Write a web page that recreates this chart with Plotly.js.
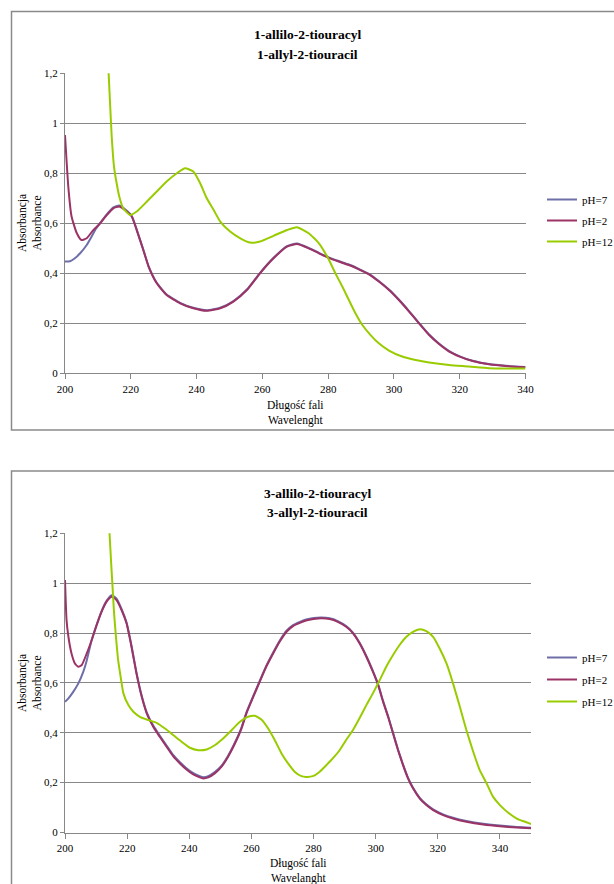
<!DOCTYPE html>
<html>
<head>
<meta charset="utf-8">
<script src="https://cdn.plot.ly/plotly-3.0.1.min.js"></script>
<style>html,body{margin:0;padding:0;background:#fff;}#chart{width:614px;height:884px;}</style>
</head>
<body>
<div id="chart"></div>
<script>
// ---------- Chart 1: 1-allyl-2-thiouracil ----------
const title1a = "1-allilo-2-tiouracyl";
const title1b = "1-allyl-2-tiouracil";
const series = ["pH=7", "pH=2", "pH=12"];

const top_x_ph7 = [200,201.5,203,204.6,206.6,208.1,209.5,210.7,212.7,214.7,216.5,218.8,220.3,221.8,223.8,225.4,227.9,230.9,235,239,243.1,247.2,251.2,255.3,259.3,263.4,267.5,270.5,274.1,277.2,280,283.2,286.3,289.3,292.4,295.4,298.5,301.5,304.6,307.6,310.7,313.7,316.8,320,323.9,328.9,334,340];
const top_y_ph7 = [0.447,0.448,0.46,0.48,0.513,0.547,0.58,0.602,0.636,0.664,0.671,0.65,0.629,0.575,0.495,0.429,0.362,0.315,0.282,0.262,0.252,0.262,0.289,0.335,0.402,0.462,0.509,0.519,0.502,0.482,0.465,0.449,0.435,0.418,0.398,0.369,0.335,0.295,0.249,0.202,0.155,0.119,0.089,0.068,0.05,0.037,0.03,0.025];

const top_x_ph2 = [200,201,202,203.6,205,206.6,208.6,210.7,212.7,214.7,216.5,218.8,220.3,221.8,223.8,225.4,227.9,230.9,235,239,243.1,247.2,251.2,255.3,259.3,263.4,267.5,270.5,274.1,277.2,280,283.2,286.3,289.3,292.4,295.4,298.5,301.5,304.6,307.6,310.7,313.7,316.8,320,323.9,328.9,334,340];
const top_y_ph2 = [0.953,0.747,0.627,0.56,0.533,0.54,0.573,0.6,0.633,0.66,0.667,0.647,0.627,0.573,0.493,0.427,0.36,0.313,0.28,0.26,0.25,0.26,0.287,0.333,0.4,0.46,0.507,0.517,0.5,0.48,0.463,0.447,0.433,0.416,0.396,0.367,0.333,0.293,0.247,0.2,0.153,0.117,0.087,0.067,0.049,0.036,0.029,0.024];

const top_x_ph12 = [212.9,213.7,214.2,214.9,215.7,216.5,217.7,219.8,221.8,224.9,227.9,230.9,234,236.5,239,241.1,243.1,245.2,247.2,250.2,253.3,256.3,259.3,263.4,267.5,270.5,274.1,277.2,280,282.2,284.3,286.3,288.3,290.4,292.9,295.4,298.5,302.5,306.6,310.7,316.8,322.8,328.9,340];
const top_y_ph12 = [1.3,1.08,0.947,0.827,0.76,0.707,0.66,0.633,0.647,0.687,0.727,0.767,0.8,0.82,0.807,0.76,0.7,0.653,0.607,0.567,0.54,0.523,0.527,0.55,0.573,0.584,0.56,0.52,0.46,0.4,0.347,0.293,0.24,0.193,0.153,0.12,0.091,0.067,0.053,0.043,0.033,0.027,0.02,0.019];

// ---------- Chart 2: 3-allyl-2-thiouracil ----------
const title2a = "3-allilo-2-tiouracyl";
const title2b = "3-allyl-2-tiouracil";

const bot_x_ph7 = [200,201.1,202.7,204.3,205.9,207,208.6,210.2,211.8,213.4,215,216.6,218.2,219.8,221.4,223,224.7,226.3,228.4,230.5,232.7,234.8,237,239.1,241.3,243.4,244.5,246.1,248.2,250.4,252.5,254.7,256.8,258.4,260.6,262.7,264.8,267,269.1,271.3,273.4,275.6,277.6,280,282.5,285.2,287.8,290.5,292.7,294.8,297,299.1,300.8,302.4,304,305.6,307.2,308.8,310.4,312,314.2,316.3,318.5,321.7,324.9,329.2,334.6,340,345.4,350];
const bot_y_ph7 = [0.524,0.538,0.565,0.598,0.645,0.69,0.772,0.834,0.889,0.93,0.952,0.938,0.897,0.843,0.75,0.642,0.548,0.482,0.429,0.389,0.349,0.311,0.282,0.258,0.238,0.226,0.222,0.226,0.242,0.268,0.308,0.361,0.421,0.482,0.548,0.609,0.669,0.722,0.769,0.809,0.832,0.845,0.854,0.86,0.862,0.859,0.848,0.828,0.802,0.762,0.708,0.648,0.594,0.527,0.467,0.4,0.333,0.273,0.22,0.18,0.139,0.113,0.093,0.073,0.059,0.046,0.035,0.028,0.022,0.019];

const bot_x_ph2 = [200,200.5,201.1,202.1,203.2,204.3,205.4,207,208.6,210.2,211.8,213.4,215,216.6,218.2,219.8,221.4,223,224.7,226.3,228.4,230.5,232.7,234.8,237,239.1,241.3,243.4,244.5,246.1,248.2,250.4,252.5,254.7,256.8,258.4,260.6,262.7,264.8,267,269.1,271.3,273.4,275.6,277.6,280,282.5,285.2,287.8,290.5,292.7,294.8,297,299.1,300.8,302.4,304,305.6,307.2,308.8,310.4,312,314.2,316.3,318.5,321.7,324.9,329.2,334.6,340,345.4,350];
const bot_y_ph2 = [1.013,0.852,0.785,0.718,0.678,0.665,0.672,0.718,0.772,0.832,0.886,0.926,0.946,0.932,0.892,0.839,0.745,0.638,0.544,0.478,0.424,0.384,0.344,0.306,0.277,0.253,0.233,0.221,0.217,0.221,0.237,0.264,0.304,0.357,0.417,0.478,0.544,0.605,0.665,0.718,0.765,0.805,0.828,0.841,0.85,0.856,0.859,0.856,0.845,0.825,0.799,0.759,0.705,0.645,0.591,0.524,0.464,0.397,0.33,0.27,0.217,0.177,0.136,0.11,0.09,0.07,0.056,0.043,0.032,0.025,0.02,0.017];

const bot_x_ph12 = [213.9,214.8,215.3,215.8,216.4,217.1,217.9,218.8,220.4,222,224.1,226.8,229.5,232.2,234.8,237.5,240.2,242.9,245.6,248.2,250.9,253.6,256.3,258.9,261.1,263.2,265.4,267.5,269.7,271.8,274,276.1,277.6,279.8,281.9,284.1,286.2,288.4,290.5,292.7,294.8,297,299.1,301.3,303.4,305.6,307.7,309.9,312,314.2,316.3,318.5,320.6,322.8,324.9,327.1,329.2,331.4,333.5,335.7,337.8,340,342.7,345.4,348.1,350.2];
const bot_y_ph12 = [1.3,1.093,0.986,0.879,0.785,0.692,0.625,0.558,0.511,0.484,0.464,0.451,0.44,0.417,0.391,0.364,0.34,0.33,0.333,0.35,0.377,0.41,0.444,0.464,0.468,0.453,0.417,0.371,0.317,0.277,0.243,0.226,0.223,0.226,0.243,0.27,0.297,0.33,0.371,0.411,0.458,0.511,0.558,0.611,0.665,0.712,0.752,0.785,0.805,0.815,0.808,0.785,0.738,0.678,0.598,0.504,0.411,0.324,0.25,0.197,0.143,0.11,0.079,0.056,0.043,0.033];

const xTitle1 = "Długość fali<br>Wavelenght";
const xTitle2 = "Długość fali<br>Wavelanght";
const yTitle = "Absorbancja<br>Absorbance";

// ---------- styling ----------
const W = 614, H = 884;
const FONT = "Liberation Serif";
const colors = ["#6E6EA8", "#9B3366", "#99CC00"];
const gray = "#878787";
const px = v => v / W;
const py = v => 1 - v / H;

function tr(x, y, i, xa, ya, lg) {
  return {x: x, y: y, name: series[i], type: "scatter", mode: "lines",
    line: {color: colors[i], width: 2, shape: "spline", smoothing: 0.5},
    xaxis: xa, yaxis: ya, legend: lg, legendgroup: lg + "_" + i};
}
const data = [
  tr(top_x_ph7, top_y_ph7, 0, "x", "y", "legend"),
  tr(top_x_ph2, top_y_ph2, 1, "x", "y", "legend"),
  tr(top_x_ph12, top_y_ph12, 2, "x", "y", "legend"),
  tr(bot_x_ph7, bot_y_ph7, 0, "x2", "y2", "legend2"),
  tr(bot_x_ph2, bot_y_ph2, 1, "x2", "y2", "legend2"),
  tr(bot_x_ph12, bot_y_ph12, 2, "x2", "y2", "legend2")
];
function xAxis(domain, range, anchor) {
  return {domain: domain, range: range, anchor: anchor, dtick: 20, tick0: 200,
    showgrid: false, zeroline: false, showline: true, linecolor: gray, linewidth: 1,
    ticks: "outside", ticklen: 5, tickcolor: gray, tickwidth: 1,
    tickfont: {family: FONT, size: 11, color: "#000"}, automargin: false, fixedrange: true};
}
function yAxis(domain, anchor) {
  return {domain: domain, range: [0, 1.2], anchor: anchor, dtick: 0.2, tick0: 0,
    showgrid: true, gridcolor: gray, gridwidth: 1, zeroline: false,
    showline: true, linecolor: gray, linewidth: 1,
    ticks: "outside", ticklen: 4, tickcolor: gray, tickwidth: 1,
    tickfont: {family: FONT, size: 11, color: "#000"}, automargin: false, fixedrange: true};
}
const legendBase = {xanchor: "left", yanchor: "top", bgcolor: "rgba(0,0,0,0)",
  borderwidth: 0, font: {family: FONT, size: 11, color: "#000"},
  itemwidth: 30, itemclick: false, itemdoubleclick: false};
function ann(text, x, y, size, angle) {
  return {text: text, x: px(x), y: py(y), xref: "paper", yref: "paper", xanchor: "center", yanchor: "middle",
    showarrow: false, textangle: angle || 0, font: {family: FONT, size: size, color: "#000"}};
}
const layout = {
  width: W, height: H,
  margin: {l: 0, r: 0, t: 0, b: 0, autoexpand: false},
  paper_bgcolor: "#fff", plot_bgcolor: "#fff",
  separators: ",.", showlegend: true,
  font: {family: FONT, color: "#000"},
  xaxis: xAxis([px(65), px(525.5)], [200, 340], "y"),
  yaxis: yAxis([py(373.3), py(73.3)], "x"),
  xaxis2: xAxis([px(65), px(531)], [200, 350], "y2"),
  yaxis2: yAxis([py(832.5), py(533.3)], "x2"),
  legend: Object.assign({}, legendBase, {x: px(542), y: py(185), tracegroupgap: 2}),
  legend2: Object.assign({}, legendBase, {x: px(542), y: py(643), tracegroupgap: 3}),
  annotations: [
    ann("<b>" + title1a + "</b>", 307, 35, 13.5), ann("<b>" + title1b + "</b>", 307, 54, 13.5),
    ann("<b>" + title2a + "</b>", 317, 493, 13.5), ann("<b>" + title2b + "</b>", 317, 512, 13.5),
    ann(xTitle1, 295.5, 412.5, 11.5), ann(xTitle2, 298, 870.5, 11.5),
    ann(yTitle, 29, 223, 11.5, -90), ann(yTitle, 29, 683, 11.5, -90)
  ],
  shapes: [
    {type: "rect", xref: "paper", yref: "paper", x0: px(11.5), x1: px(640), y0: py(430), y1: py(11.5),
     line: {color: "#8a8a8a", width: 1.5}, fillcolor: "rgba(0,0,0,0)", layer: "below"},
    {type: "rect", xref: "paper", yref: "paper", x0: px(11.5), x1: px(640), y0: py(910), y1: py(471),
     line: {color: "#8a8a8a", width: 1.5}, fillcolor: "rgba(0,0,0,0)", layer: "below"}
  ]
};
Plotly.newPlot("chart", data, layout, {displayModeBar: false});
</script>
</body>
</html>
